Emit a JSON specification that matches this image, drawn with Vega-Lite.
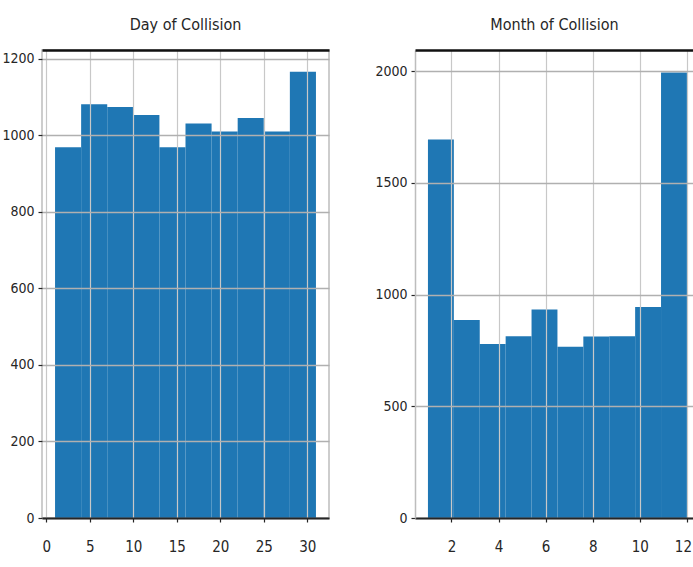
{
  "$schema": "https://vega.github.io/schema/vega-lite/v6.json",
  "padding": {"left": 1, "top": 16, "right": 0, "bottom": 0},
  "background": "white",
  "spacing": 44,
  "config": {
    "font": "DejaVu Sans Condensed, Liberation Sans, sans-serif",
    "axis": {"labelFont": "DejaVu Sans Condensed, Liberation Sans, sans-serif", "labelFontSize": 14, "labelColor": "#262626", "tickColor": "#262626", "tickSize": 4, "tickWidth": 1.2, "format": "d"},
    "title": {"font": "DejaVu Sans Condensed, Liberation Sans, sans-serif", "fontSize": 16, "fontWeight": "normal", "color": "#262626", "offset": 17}
  },
  "datasets": {
    "day": [
      {"bin_start": 1, "bin_end": 4, "count": 969},
      {"bin_start": 4, "bin_end": 7, "count": 1081},
      {"bin_start": 7, "bin_end": 10, "count": 1074},
      {"bin_start": 10, "bin_end": 13, "count": 1053},
      {"bin_start": 13, "bin_end": 16, "count": 969},
      {"bin_start": 16, "bin_end": 19, "count": 1031},
      {"bin_start": 19, "bin_end": 22, "count": 1010},
      {"bin_start": 22, "bin_end": 25, "count": 1045},
      {"bin_start": 25, "bin_end": 28, "count": 1010},
      {"bin_start": 28, "bin_end": 31, "count": 1166}
    ],
    "month": [
      {"bin_start": 1.0, "bin_end": 2.1, "count": 1694},
      {"bin_start": 2.1, "bin_end": 3.2, "count": 886},
      {"bin_start": 3.2, "bin_end": 4.3, "count": 779},
      {"bin_start": 4.3, "bin_end": 5.4, "count": 814},
      {"bin_start": 5.4, "bin_end": 6.5, "count": 933},
      {"bin_start": 6.5, "bin_end": 7.6, "count": 767},
      {"bin_start": 7.6, "bin_end": 8.7, "count": 812},
      {"bin_start": 8.7, "bin_end": 9.8, "count": 814},
      {"bin_start": 9.8, "bin_end": 10.9, "count": 945},
      {"bin_start": 10.9, "bin_end": 12.0, "count": 1994}
    ]
  },
  "hconcat": [
    {
      "title": "Day of Collision",
      "width": 287,
      "height": 468,
      "data": {"name": "day"},
      "view": {"stroke": "#bdbdbd", "strokeWidth": 1.5},
      "resolve": {"axis": {"x": "independent"}},
      "layer": [
        {
          "mark": {"type": "bar", "color": "#1f77b4"},
          "encoding": {
            "x": {"field": "bin_start", "type": "quantitative", "scale": {"domain": [-0.5, 32.5], "nice": false, "zero": false},
                  "axis": {"title": null, "values": [0, 5, 10, 15, 20, 25, 30], "grid": true, "gridColor": "#c8c8c8", "gridWidth": 1.2, "domainColor": "#262626", "domainWidth": 2, "labelFontSize": 15, "labelPadding": 17, "zindex": 1}},
            "x2": {"field": "bin_end"},
            "y": {"field": "count", "type": "quantitative", "scale": {"domain": [0, 1223], "nice": false},
                  "axis": {"title": null, "values": [0, 200, 400, 600, 800, 1000, 1200], "grid": true, "gridColor": "#b0b0b0", "gridWidth": 1.5, "domain": false, "labelPadding": 4, "zindex": 1}},
            "y2": {"datum": 0}
          }
        },
        {
          "mark": {"type": "bar", "opacity": 0},
          "encoding": {
            "x": {"field": "bin_start", "type": "quantitative", "axis": {"orient": "top", "title": null, "labels": false, "ticks": false, "grid": false, "domainColor": "#111111", "domainWidth": 2.5, "zindex": 2}},
            "x2": {"field": "bin_end"}
          }
        }
      ]
    },
    {
      "title": "Month of Collision",
      "width": 279,
      "height": 468,
      "data": {"name": "month"},
      "view": {"stroke": null},
      "resolve": {"axis": {"x": "independent"}},
      "layer": [
        {
          "mark": {"type": "bar", "color": "#1f77b4"},
          "encoding": {
            "x": {"field": "bin_start", "type": "quantitative", "scale": {"domain": [0.45, 12.3], "nice": false, "zero": false},
                  "axis": {"title": null, "values": [2, 4, 6, 8, 10, 12], "grid": true, "gridColor": "#c8c8c8", "gridWidth": 1.2, "domainColor": "#262626", "domainWidth": 2, "labelFontSize": 15, "labelPadding": 17, "labelOffset": {"condition": {"test": "datum.value === 12", "value": -4}, "value": 0}, "zindex": 1}},
            "x2": {"field": "bin_end"},
            "y": {"field": "count", "type": "quantitative", "scale": {"domain": [0, 2095], "nice": false},
                  "axis": {"title": null, "values": [0, 500, 1000, 1500, 2000], "grid": true, "gridColor": "#b0b0b0", "gridWidth": 1.5, "domain": true, "domainColor": "#bdbdbd", "domainWidth": 1.5, "labelPadding": 4, "zindex": 1}},
            "y2": {"datum": 0}
          }
        },
        {
          "mark": {"type": "bar", "opacity": 0},
          "encoding": {
            "x": {"field": "bin_start", "type": "quantitative", "axis": {"orient": "top", "title": null, "labels": false, "ticks": false, "grid": false, "domainColor": "#111111", "domainWidth": 2.5, "zindex": 2}},
            "x2": {"field": "bin_end"}
          }
        }
      ]
    }
  ]
}
